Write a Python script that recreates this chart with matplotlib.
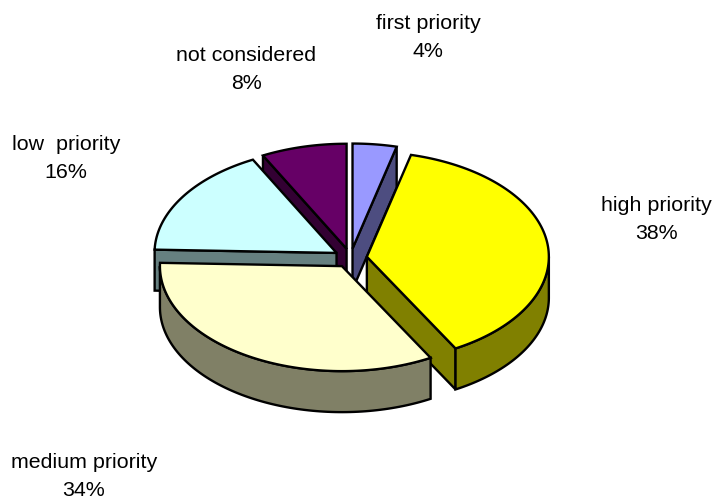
import numpy as np
import matplotlib
matplotlib.use('Agg')
import matplotlib.pyplot as plt
from matplotlib.patches import Polygon

plt.rcParams['font.family'] = ['Liberation Sans', 'DejaVu Sans']

categories = ['first priority', 'high priority', 'medium priority', 'low  priority', 'not considered']
# sweep of each slice (the printed labels are rounded)
values = [3.9, 38.0, 33.6, 16.9, 7.6]
pct_labels = ['4%', '38%', '34%', '16%', '8%']
top_colors = ['#9999ff', '#ffff00', '#ffffcc', '#ccffff', '#660066']
side_colors = ['#4d4d80', '#808000', '#808066', '#668080', '#330033']
label_xy = [(428, 37.5), (656, 219.5), (84, 476.5), (66, 158.5), (246.5, 69.5)]

# pie layout in pixels
cx, cy = 350.5, 258
rx, ry = 182, 105
depth = 41
explode = 16.5
draw_order = [4, 0, 3, 1, 2]

fig = plt.figure(figsize=(7.12, 5), dpi=100)
ax = fig.add_axes([0, 0, 1, 1])
ax.set_xlim(0, 712)
ax.set_ylim(500, 0)
ax.axis('off')


def rim(x0, y0, a, b, dy=0):
    t = np.radians(np.linspace(a, b, 100))
    return np.column_stack([x0 + rx * np.sin(t), y0 - ry * np.cos(t) + dy])


def face(pts, color):
    ax.add_patch(Polygon(pts, closed=True, facecolor=color, edgecolor='black',
                         linewidth=1.7, joinstyle='miter'))


def cut(x0, y0, ang, color):
    p = rim(x0, y0, ang, ang)[0]
    face([(x0, y0), p, (p[0], p[1] + depth), (x0, y0 + depth)], color)


edges = np.cumsum([0] + values) / sum(values) * 360
for i in draw_order:
    a, b = edges[i], edges[i + 1]
    mid = np.radians((a + b) / 2)
    x0 = cx + explode * np.sin(mid)
    y0 = cy - explode * ry / rx * np.cos(mid)
    # only the cut faces turned towards the viewer
    if np.sin(np.radians(a)) < 0:
        cut(x0, y0, a, side_colors[i])
    if np.sin(np.radians(b)) > 1e-6:
        cut(x0, y0, b, side_colors[i])
    # outer wall only on the front half
    lo, hi = max(a, 90), min(b, 270)
    if lo < hi:
        face(np.vstack([rim(x0, y0, lo, hi), rim(x0, y0, hi, lo, depth)]), side_colors[i])
    face(np.vstack([[(x0, y0)], rim(x0, y0, a, b)]), top_colors[i])

for name, pct, (x, y) in zip(categories, pct_labels, label_xy):
    ax.text(x, y, name + '\n' + pct, ha='center', va='center', fontsize=15.4,
            linespacing=1.6, color='black')

fig.savefig('out.png', dpi=100)
